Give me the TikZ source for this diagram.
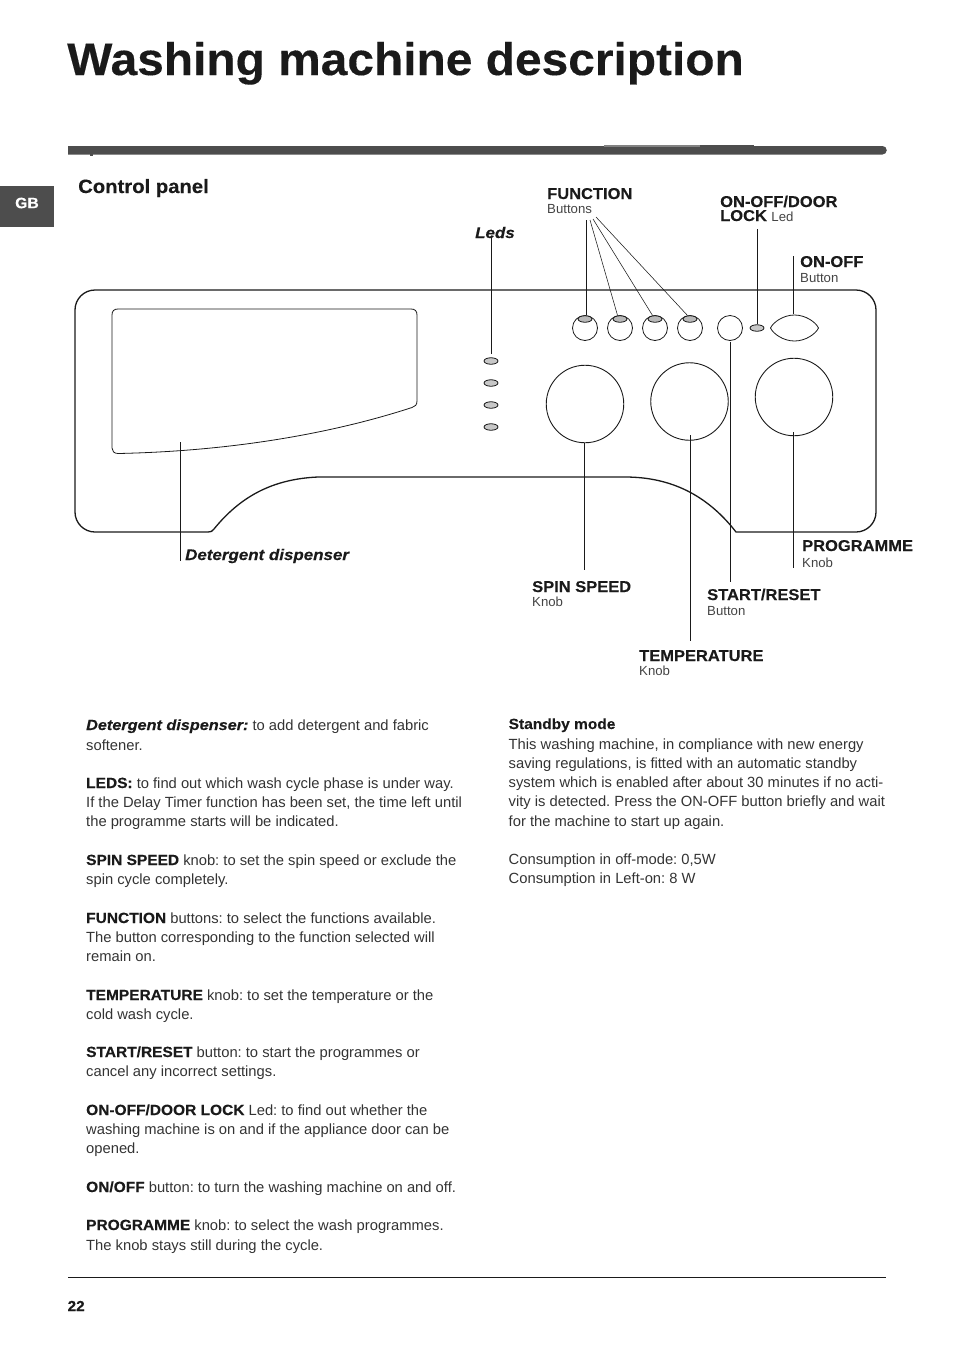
\documentclass[tikz,border=0pt]{standalone}
\usepackage{fontspec}
\setmainfont{Liberation Sans}[
  BoldFeatures={FakeStretch=1.05,FakeBold=0.25},
  BoldItalicFeatures={FakeStretch=1.1,FakeBold=0.25}]
\frenchspacing
\usetikzlibrary{shapes.geometric}
\definecolor{bar}{HTML}{4D4D4D}
\definecolor{ink}{HTML}{1A1A1A}
\definecolor{bodyc}{HTML}{333333}
\definecolor{subc}{HTML}{444444}
\newcommand{\B}[1]{{\bfseries\color{ink}#1}}
\newcommand{\BI}[1]{{\bfseries\itshape\color{ink}#1}}
\tikzset{
  bodytext/.style={anchor=base west,inner sep=0pt,text=bodyc,font=\fontsize{14.75}{19}\selectfont},
  lab/.style={anchor=base west,inner sep=0pt,text=ink,font=\fontsize{15.7}{16}\selectfont\bfseries},
  sublab/.style={anchor=base west,inner sep=0pt,text=subc,font=\fontsize{13.2}{14}\selectfont},
  ital/.style={anchor=base west,inner sep=0pt,text=ink,font=\fontsize{15.4}{16}\selectfont\bfseries\itshape},
  outline/.style={draw=ink,line width=1.3pt,fill=none},
  thin outline/.style={draw=ink,line width=0.8pt,fill=none},
  leader/.style={draw=ink,line width=0.75pt},
  lamp/.style={ellipse,draw=ink,line width=0.8pt,inner sep=0pt,fill=black!28},
  btn/.style={circle,draw=ink,line width=0.8pt,inner sep=0pt,minimum size=25pt},
  knob/.style={circle,draw=ink,line width=0.9pt,inner sep=0pt,minimum size=77.5pt},
}
\begin{document}
\begin{tikzpicture}[x=1pt,y=-1pt]
\useasboundingbox (0,0) rectangle (954,1350);
\node[anchor=base west,inner sep=0pt,text=ink,font=\fontsize{45.6}{50}\selectfont\bfseries] (title) at (67,75) {Washing machine description};
% header bar
\fill[bar] (68,146) -- (882.5,146) arc[start angle=-90,end angle=90,radius=4.25] -- (68,154.5) -- cycle;
\fill[bar!70] (604,145) rectangle (700,146.5);
\fill[bar] (700,145) rectangle (754,146.5);
\fill[bar] (90,154) rectangle (93,155.5);
% tab
\fill[bar] (0,186) rectangle (54,227);
\node[inner sep=0pt,text=white,font=\fontsize{15}{16}\selectfont\bfseries] (gb) at (27,203) {GB};
\node[anchor=base west,inner sep=0pt,text=ink,font=\fontsize{19.3}{20}\selectfont\bfseries] (cp) at (78,193) {Control panel};
% panel
\draw[outline] (95,290) -- (856,290) arc[start angle=-90,end angle=0,radius=20] -- (876,512)
  arc[start angle=0,end angle=90,radius=20] -- (736,532)
  .. controls (708,496) and (672,477) .. (625,477) -- (318,477)
  .. controls (272,479) and (240,497) .. (214,529)
  .. controls (212,531.5) and (211,532) .. (208,532) -- (95,532)
  arc[start angle=90,end angle=180,radius=20] -- (75,310)
  arc[start angle=180,end angle=270,radius=20] -- cycle;
% drawer
\draw[thin outline] (118,309) -- (411,309) .. controls (415,309) and (417,311) .. (417,315) -- (417,401)
  .. controls (417,405) and (415,406.5) .. (412,407.5)
  .. controls (340,431) and (240,451) .. (118,453.5)
  .. controls (114,453.5) and (112,451) .. (112,448) -- (112,315)
  .. controls (112,311) and (114,309) .. (118,309) -- cycle;
% knobs, buttons
\node[knob] (spinknob) at (585,404) {};
\node[knob] (tempknob) at (689.5,401.5) {};
\node[knob] (progknob) at (794,397) {};
\node[btn] (b1) at (585,328) {};
\node[btn] (b2) at (620,328) {};
\node[btn] (b3) at (655,328) {};
\node[btn] (b4) at (690,328) {};
\node[btn] (startbtn) at (730,328) {};
\node[lamp,minimum width=14pt,minimum height=6.5pt] (f1) at (585,319) {};
\node[lamp,minimum width=14pt,minimum height=6.5pt] (f2) at (620,319) {};
\node[lamp,minimum width=14pt,minimum height=6.5pt] (f3) at (655,319) {};
\node[lamp,minimum width=14pt,minimum height=6.5pt] (f4) at (690,319) {};
\node[lamp,fill=black!22,minimum width=14pt,minimum height=6.5pt] (doorled) at (757,328) {};
\foreach \n/\y in {l1/361,l2/383,l3/405,l4/427}
  \node[lamp,fill=black!22,minimum width=14pt,minimum height=6.5pt] (\n) at (491,\y) {};
\draw[thin outline] (770.5,328) .. controls (773,322.5) and (783,315) .. (794.5,315)
  .. controls (806,315) and (816,322.5) .. (818.5,328)
  .. controls (816,333.5) and (806,341) .. (794.5,341)
  .. controls (783,341) and (773,333.5) .. (770.5,328) -- cycle;
\coordinate (onoffbtn) at (793.5,314);
% leader ends
\coordinate (cLeds) at (491,237);
\coordinate (cF1) at (586.5,220);
\coordinate (cF2) at (590,220);
\coordinate (cF3) at (593,219);
\coordinate (cF4) at (596,217);
\coordinate (cDoor) at (757.5,229);
\coordinate (cOnoff) at (793.5,256);
\coordinate (cStart) at (730.5,582);
\coordinate (cSpin) at (584.5,570);
\coordinate (cTemp) at (690.5,641);
\coordinate (cProg) at (793.5,568);
\coordinate (cDetTop) at (180.5,442);
\coordinate (cDet) at (180.5,561);
\draw[leader] (cLeds) -- (491,354);
\draw[leader] (cF1) -- (f1.north -| cF1);
\draw[leader,line width=0.55pt] (cF2) -- (f2.125);
\draw[leader,line width=0.55pt] (cF3) -- (f3.125);
\draw[leader,line width=0.55pt] (cF4) -- (f4.125);
\draw[leader] (cDoor) -- (doorled.north -| cDoor);
\draw[leader] (cOnoff) -- (onoffbtn);
\draw[leader] (startbtn.south -| cStart) ++(0,1) -- (cStart);
\draw[leader] (spinknob.south -| cSpin) -- (cSpin);
\draw[leader] (690.5,435) -- (cTemp);
\draw[leader] (793.5,432) -- (cProg);
\draw[leader] (cDetTop) -- (cDet);
% labels
\node[ital] (lLeds) at (475,238) {Leds};
\node[lab] (lFn) at (547,199) {FUNCTION};
\node[sublab] (lFn2) at (547,213) {Buttons};
\node[lab] (lDoor) at (720,207) {ON-OFF/DOOR};
\node[lab] (lDoor2) at (720,221) {LOCK \fontsize{13.2}{14}\selectfont\mdseries\color{subc}Led};
\node[lab] (lOn) at (800,267) {ON-OFF};
\node[sublab] (lOn2) at (800,282) {Button};
\node[lab] (lProg) at (802,551) {PROGRAMME};
\node[sublab] (lProg2) at (802,567) {Knob};
\node[lab] (lSpin) at (532,592) {SPIN SPEED};
\node[sublab] (lSpin2) at (532,606) {Knob};
\node[lab] (lStart) at (707,600) {START/RESET};
\node[sublab] (lStart2) at (707,615) {Button};
\node[lab] (lTemp) at (639,661) {TEMPERATURE};
\node[sublab] (lTemp2) at (639,675) {Knob};
\node[ital] (lDet) at (185,560) {Detergent dispenser};
% left column
\node[bodytext] (a1) at (86,730) {\BI{Detergent dispenser:} to add detergent and fabric};
\node[bodytext] (a2) at (86,750) {softener.};
\node[bodytext] (b1t) at (86,788) {\B{LEDS:} to find out which wash cycle phase is under way.};
\node[bodytext] (b2t) at (86,807) {If the Delay Timer function has been set, the time left until};
\node[bodytext] (b3t) at (86,826) {the programme starts will be indicated.};
\node[bodytext] (c1) at (86,865) {\B{SPIN SPEED} knob: to set the spin speed or exclude the};
\node[bodytext] (c2) at (86,884) {spin cycle completely.};
\node[bodytext] (d1) at (86,923) {\B{FUNCTION} buttons: to select the functions available.};
\node[bodytext] (d2) at (86,942) {The button corresponding to the function selected will};
\node[bodytext] (d3) at (86,961) {remain on.};
\node[bodytext] (e1) at (86,1000) {\B{TEMPERATURE} knob: to set the temperature or the};
\node[bodytext] (e2) at (86,1019) {cold wash cycle.};
\node[bodytext] (f1t) at (86,1057) {\B{START/RESET} button: to start the programmes or};
\node[bodytext] (f2t) at (86,1076) {cancel any incorrect settings.};
\node[bodytext] (g1) at (86,1115) {\B{ON-OFF/DOOR LOCK} Led: to find out whether the};
\node[bodytext] (g2) at (86,1134) {washing machine is on and if the appliance door can be};
\node[bodytext] (g3) at (86,1153) {opened.};
\node[bodytext] (h1) at (86,1192) {\B{ON/OFF} button: to turn the washing machine on and off.};
\node[bodytext] (i1) at (86,1230) {\B{PROGRAMME} knob: to select the wash programmes.};
\node[bodytext] (i2) at (86,1250) {The knob stays still during the cycle.};
% right column
\node[bodytext] (s0) at (508.5,729) {\B{Standby mode}};
\node[bodytext] (s1) at (508.5,749) {This washing machine, in compliance with new energy};
\node[bodytext] (s2) at (508.5,768) {saving regulations, is fitted with an automatic standby};
\node[bodytext] (s3) at (508.5,787) {system which is enabled after about 30 minutes if no acti-};
\node[bodytext] (s4) at (508.5,806) {vity is detected. Press the ON-OFF button briefly and wait};
\node[bodytext] (s5) at (508.5,826) {for the machine to start up again.};
\node[bodytext] (s6) at (508.5,864) {Consumption in off-mode: 0,5W};
\node[bodytext] (s7) at (508.5,883) {Consumption in Left-on: 8 W};
% footer
\draw[draw=ink,line width=0.8pt] (68,1277) -- (886,1277);
\node[anchor=base west,inner sep=0pt,text=ink,font=\fontsize{14.5}{15}\selectfont\bfseries] (pg) at (67.5,1311) {22};
\end{tikzpicture}
\end{document}
